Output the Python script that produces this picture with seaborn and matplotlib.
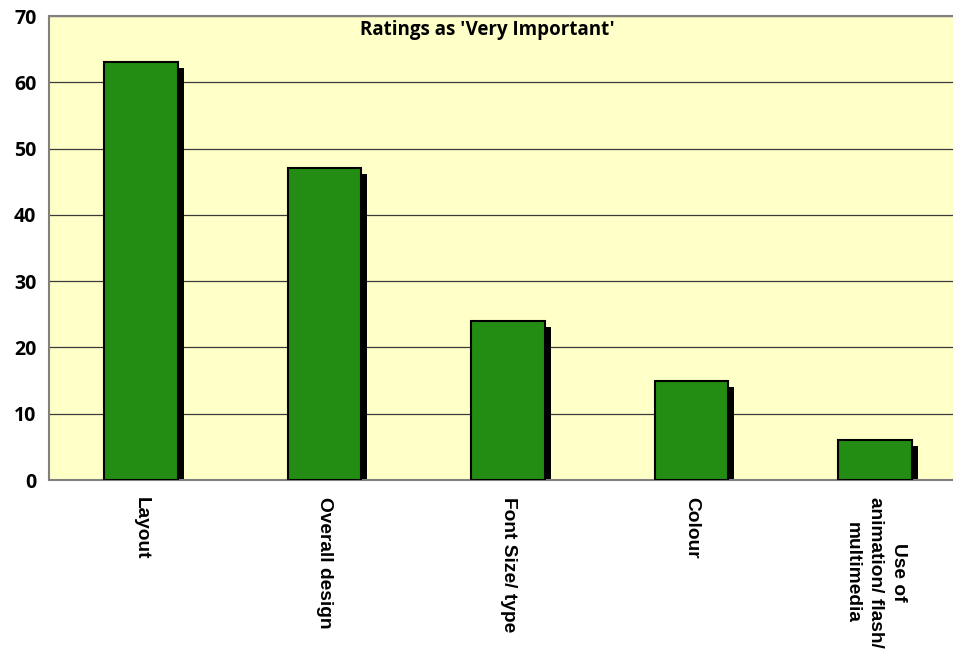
import matplotlib
matplotlib.use("Agg")
import matplotlib.pyplot as plt
import matplotlib.transforms as mtransforms
from matplotlib.patches import Rectangle
import seaborn as sns
import pandas as pd

categories = ["Layout", "Overall design", "Font Size/ type", "Colour",
              "Use of\nanimation/ flash/\nmultimedia"]
values = [63, 47, 24, 15, 6]
title = "Ratings as 'Very Important'"

df = pd.DataFrame({"category": categories, "value": values})

sns.set_theme(style="white")
plt.rcParams["font.family"] = ["Open Sans", "DejaVu Sans"]
plt.rcParams["font.weight"] = "bold"
plt.rcParams["text.color"] = "black"
plt.rcParams["xtick.labelcolor"] = "black"
plt.rcParams["ytick.labelcolor"] = "black"

fig = plt.figure(figsize=(9.54, 6.54), dpi=100)
W, H = 954, 654
ax = fig.add_axes([49 / W, (H - 480) / H, 918 / W, 464 / H])
ax.set_facecolor("#FFFFC8")

sns.barplot(data=df, x="category", y="value", ax=ax, color="#238C12",
            width=0.4, saturation=1, edgecolor="black", linewidth=1.5,
            zorder=3)

# drop shadow behind each bar
shift = mtransforms.ScaledTranslation(6 / 100, -6 / 100, fig.dpi_scale_trans)
for p in list(ax.patches):
    sh = Rectangle(p.get_xy(), p.get_width(), p.get_height(),
                   facecolor="black", edgecolor="none",
                   transform=ax.transData + shift, zorder=2)
    sh.set_clip_path(ax.patch)
    ax.add_patch(sh)

ax.set_xlim(-0.5, len(categories) - 0.5)
ax.set_ylim(0, 70)
ax.yaxis.grid(True, color="#3a3a3a", linewidth=0.9, zorder=1)
ax.set_axisbelow(True)

ax.set_xticks([i + 0.5 for i in range(-1, len(categories))], minor=True)
ax.set_xticks(range(len(categories)))
ax.tick_params(axis="x", which="major", length=0, pad=12)
ax.tick_params(axis="x", which="minor", length=6, width=1, color="#555555",
               direction="out")
ax.tick_params(axis="y", length=6, width=1, color="#555555", direction="out",
               pad=3)
ax.set_xticklabels(categories, rotation=-90, ha="center", va="top",
                   multialignment="center", fontsize=13.8, fontweight="bold",
                   family=["Liberation Sans", "DejaVu Sans"], color="black",
                   linespacing=1.45)
ax.set_yticks(range(0, 71, 10))
ax.set_yticklabels([str(v) for v in range(0, 71, 10)], fontsize=14,
                   fontweight="bold", color="black")
ax.set_xlabel("")
ax.set_ylabel("")

for s in ["left", "bottom", "top"]:
    ax.spines[s].set_visible(True)
    ax.spines[s].set_color("#808080")
    ax.spines[s].set_linewidth(1.5)
ax.spines["right"].set_visible(False)

fig.text(487 / W, 1 - 30 / H, title, ha="center", va="center",
         fontsize=13.5, fontweight="bold", color="black")

fig.savefig("out.png", dpi=100)
